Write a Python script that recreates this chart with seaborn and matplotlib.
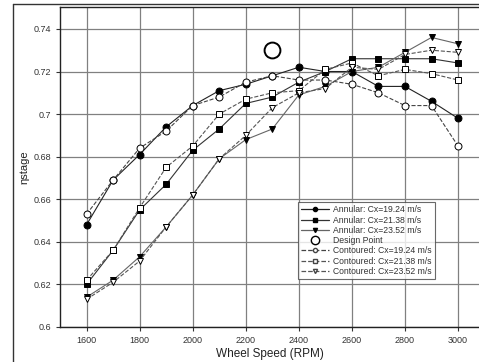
import matplotlib
matplotlib.use("Agg")
import matplotlib.pyplot as plt
from matplotlib.lines import Line2D
import numpy as np
import pandas as pd
import seaborn as sns

rpm = [1600, 1700, 1800, 1900, 2000, 2100, 2200, 2300, 2400, 2500, 2600, 2700, 2800, 2900, 3000]

annular_1924 = [0.648, 0.669, 0.681, 0.694, 0.704, 0.711, 0.714, 0.718, 0.722, 0.720, 0.720, 0.713, 0.713, 0.706, 0.698]
annular_2138 = [0.620, 0.636, 0.655, 0.667, 0.683, 0.693, 0.705, 0.708, 0.715, 0.720, 0.726, 0.726, 0.726, 0.726, 0.724]
annular_2352 = [0.614, 0.622, 0.633, 0.647, 0.662, 0.679, 0.688, 0.693, 0.709, 0.713, 0.720, 0.722, 0.729, 0.736, 0.733]
contoured_1924 = [0.653, 0.669, 0.684, 0.692, 0.704, 0.708, 0.715, 0.718, 0.716, 0.716, 0.714, 0.710, 0.704, 0.704, 0.685]
contoured_2138 = [0.622, 0.636, 0.656, 0.675, 0.685, 0.700, 0.707, 0.710, 0.711, 0.721, 0.724, 0.718, 0.721, 0.719, 0.716]
contoured_2352 = [0.613, 0.621, 0.631, 0.647, 0.662, 0.679, 0.690, 0.703, 0.710, 0.712, 0.722, 0.721, 0.728, 0.730, 0.729]

design_rpm = [2300]
design_eta = [0.730]

labels = [
    "Annular: Cx=19.24 m/s",
    "Annular: Cx=21.38 m/s",
    "Annular: Cx=23.52 m/s",
    "Contoured: Cx=19.24 m/s",
    "Contoured: Cx=21.38 m/s",
    "Contoured: Cx=23.52 m/s",
]

series = [annular_1924, annular_2138, annular_2352, contoured_1924, contoured_2138, contoured_2352]
df = pd.concat(
    [pd.DataFrame({"rpm": rpm, "eta": vals, "case": lab}) for lab, vals in zip(labels, series)],
    ignore_index=True,
)

# marker, face colour, line style, line colour
styles = {
    labels[0]: ("o", "black", "-", "#222222"),
    labels[1]: ("s", "black", "-", "#333333"),
    labels[2]: ("v", "black", "-", "#666666"),
    labels[3]: ("o", "white", "--", "#444444"),
    labels[4]: ("s", "white", "--", "#555555"),
    labels[5]: ("v", "white", "--", "#555555"),
}

sns.set_style("white")
plt.rcParams["font.family"] = ["Liberation Sans", "DejaVu Sans"]

fig = plt.figure(figsize=(4.79, 3.62), dpi=100)
ax = fig.add_axes([60 / 479, 1 - 327 / 362, 1 - 60 / 479, (327 - 7) / 362])

for lab in labels:
    m, fc, ls, lc = styles[lab]
    sub = df[df["case"] == lab]
    sns.lineplot(data=sub, x="rpm", y="eta", ax=ax, marker=m, markersize=5,
                 markerfacecolor=fc, markeredgecolor="black", markeredgewidth=0.7,
                 color=lc, linestyle=ls, linewidth=0.8, dashes=False, zorder=3)

ax.scatter(design_rpm, design_eta, s=130, facecolors="white", edgecolors="black",
           linewidths=1.4, zorder=4)

ax.set_xlim(1500, 3079)
ax.set_ylim(0.6, 0.7503)
ax.set_xticks(np.arange(1600, 3001, 200))
ax.set_yticks([0.6, 0.62, 0.64, 0.66, 0.68, 0.7, 0.72, 0.74])
ax.set_yticklabels(["0.6", "0.62", "0.64", "0.66", "0.68", "0.7", "0.72", "0.74"])
ax.grid(True, color="#808080", linewidth=0.9)
ax.set_axisbelow(True)
ax.tick_params(axis="both", labelsize=6.5, labelcolor="#333333", length=3, width=0.8,
               color="#333333", direction="out", left=True, bottom=True)
for side in ["left", "top", "bottom"]:
    ax.spines[side].set_color("#222222")
    ax.spines[side].set_linewidth(1.0)
ax.spines["right"].set_visible(False)

ax.set_xlabel("Wheel Speed (RPM)", fontsize=8.5, color="#222222", labelpad=2)
ax.set_ylabel("ηstage", fontsize=8, color="#222222", labelpad=3)

handles = []
for lab in labels[:3]:
    m, fc, ls, lc = styles[lab]
    handles.append(Line2D([], [], marker=m, markersize=3, markerfacecolor=fc, markeredgecolor="black",
                          color=lc, linestyle=ls, linewidth=0.9))
handles.append(Line2D([], [], marker="o", markersize=6, markerfacecolor="white",
                      markeredgecolor="black", linestyle="none"))
for lab in labels[3:]:
    m, fc, ls, lc = styles[lab]
    handles.append(Line2D([], [], marker=m, markersize=3, markerfacecolor=fc, markeredgecolor="#444444",
                          color=lc, linestyle=ls, linewidth=0.9))
leg_labels = labels[:3] + ["Design Point"] + labels[3:]
leg = ax.legend(handles, leg_labels, loc="lower left", bbox_to_anchor=(0.568, 0.15),
                fontsize=6.2, frameon=True, fancybox=False, handlelength=3.2,
                labelspacing=0.15, borderpad=0.35, handletextpad=0.5, borderaxespad=0)
leg.get_frame().set_edgecolor("#444444")
leg.get_frame().set_linewidth(0.8)
for t in leg.get_texts():
    t.set_color("#333333")

# outer frame of the figure
fig.add_artist(Line2D([13 / 479, 13 / 479], [0, 1 - 4 / 362], transform=fig.transFigure,
                      color="#333333", linewidth=1.0))
fig.add_artist(Line2D([13 / 479, 1], [1 - 4 / 362, 1 - 4 / 362], transform=fig.transFigure,
                      color="#333333", linewidth=1.0))

fig.savefig("out.png", dpi=100)
